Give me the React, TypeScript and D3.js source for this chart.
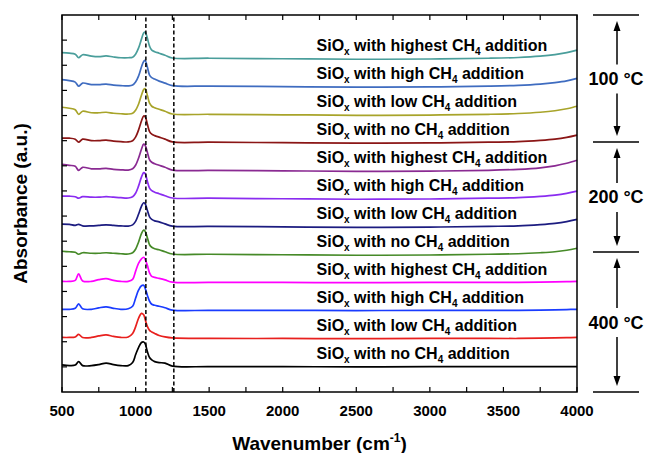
import * as d3 from 'd3';

const wavenumbers = [
  500, 550, 590, 613, 640, 700, 750, 800, 850, 900, 950, 980, 1000, 1020, 1040, 1055, 1065,
  1080, 1095, 1110, 1130, 1160, 1200, 1250, 1500, 2000, 2500, 3000, 3400, 3600, 3750, 3850,
  3930, 4000,
];

// absorbance above each spectrum's own baseline, top spectrum first
const highest100 = [0.022, 0.02, 0.016, 0.002, 0.014, 0.008, 0.006, 0.009, 0.005, 0.002, 0.002, 0.004, 0.016, 0.04, 0.076, 0.1, 0.104, 0.08, 0.048, 0.032, 0.026, 0.02, 0.012, 0.001, 0, -0.002, -0.004, -0.003, 0, 0.003, 0.008, 0.014, 0.022, 0.032];
const high100 = [0.026, 0.022, 0.016, 0, 0.012, 0.006, 0.006, 0.008, 0.004, 0.002, 0.001, 0.004, 0.016, 0.04, 0.076, 0.098, 0.102, 0.076, 0.044, 0.034, 0.028, 0.02, 0.012, 0.002, 0, -0.002, -0.004, -0.003, 0, 0.003, 0.008, 0.014, 0.021, 0.031];
const low100 = [0.028, 0.024, 0.018, 0, 0.012, 0.006, 0.006, 0.008, 0.004, 0.002, 0.001, 0.004, 0.016, 0.04, 0.076, 0.098, 0.102, 0.076, 0.044, 0.032, 0.026, 0.02, 0.012, 0.001, 0, -0.002, -0.004, -0.003, 0, 0.003, 0.008, 0.014, 0.022, 0.032];
const no100 = [0.016, 0.016, 0.012, 0, 0.012, 0.006, 0.006, 0.008, 0.004, 0.002, 0.001, 0.006, 0.02, 0.048, 0.084, 0.104, 0.102, 0.072, 0.042, 0.032, 0.026, 0.02, 0.012, 0.001, 0, -0.002, -0.004, -0.003, 0, 0.002, 0.007, 0.012, 0.019, 0.028];
const highest200 = [0.024, 0.02, 0.016, 0, 0.012, 0.006, 0.006, 0.008, 0.004, 0.002, 0.001, 0.006, 0.02, 0.048, 0.084, 0.104, 0.1, 0.072, 0.042, 0.032, 0.026, 0.02, 0.012, 0.001, 0, -0.002, -0.004, -0.003, 0, 0.004, 0.01, 0.018, 0.028, 0.04];
const high200 = [0.008, 0.008, 0.006, 0, 0.006, 0.004, 0.004, 0.006, 0.004, 0.002, 0.001, 0.006, 0.02, 0.048, 0.084, 0.102, 0.098, 0.068, 0.04, 0.03, 0.024, 0.018, 0.01, 0.001, 0, -0.002, -0.004, -0.003, 0, 0.002, 0.007, 0.012, 0.019, 0.028];
const low200 = [0.009, 0.008, 0.004, 0.008, 0.002, 0.002, 0.004, 0.006, 0.004, 0.002, 0.001, 0.006, 0.02, 0.048, 0.08, 0.094, 0.09, 0.064, 0.038, 0.028, 0.022, 0.018, 0.01, 0.001, 0, -0.002, -0.004, -0.003, 0, 0.002, 0.007, 0.012, 0.019, 0.028];
const no200 = [0.012, 0.01, 0.008, 0, 0.006, 0.004, 0.004, 0.006, 0.004, 0.002, 0.001, 0.006, 0.02, 0.048, 0.082, 0.096, 0.092, 0.066, 0.038, 0.028, 0.022, 0.018, 0.01, 0.001, 0, -0.002, -0.004, -0.003, 0, 0.002, 0.006, 0.01, 0.016, 0.024];
const highest400 = [0.004, 0.004, 0.008, 0.034, 0.006, 0.004, 0.011, 0.015, 0.008, 0.004, 0.004, 0.012, 0.044, 0.076, 0.094, 0.1, 0.092, 0.068, 0.038, 0.024, 0.02, 0.016, 0.01, 0.001, 0, 0, -0.001, 0, 0, 0, 0.001, 0.002, 0.003, 0.004];
const high400 = [0.004, 0.004, 0.008, 0.026, 0.006, 0.004, 0.01, 0.014, 0.008, 0.004, 0.006, 0.016, 0.048, 0.08, 0.098, 0.1, 0.088, 0.06, 0.036, 0.024, 0.02, 0.016, 0.01, 0.001, 0, 0, -0.001, 0, 0, 0, 0.001, 0.002, 0.003, 0.004];
const low400 = [0.004, 0.004, 0.006, 0.016, 0.004, 0.004, 0.01, 0.014, 0.008, 0.004, 0.006, 0.02, 0.046, 0.08, 0.1, 0.094, 0.076, 0.048, 0.032, 0.026, 0.02, 0.012, 0.006, 0.002, 0, 0, -0.001, 0, 0, 0, 0.001, 0.002, 0.003, 0.004];
const no400 = [0.007, 0.004, 0.006, 0.02, 0.004, 0.004, 0.008, 0.014, 0.008, 0.004, 0.004, 0.016, 0.047, 0.076, 0.096, 0.098, 0.092, 0.06, 0.036, 0.027, 0.02, 0.016, 0.014, 0.002, 0, 0, -0.001, 0, 0, 0, 0, 0, 0, 0];

const seriesValues = [
  highest100, high100, low100, no100,
  highest200, high200, low200, no200,
  highest400, high400, low400, no400,
];
const seriesOffsets = [1.328, 1.217, 1.105, 0.994, 0.882, 0.771, 0.659, 0.548, 0.436, 0.325, 0.213, 0.101];
const seriesLevels = ['highest', 'high', 'low', 'no', 'highest', 'high', 'low', 'no', 'highest', 'high', 'low', 'no'];
const seriesColors = [
  '#4a9e9b', '#3f6cc0', '#a8a42a', '#8b1616',
  '#8a2a92', '#8a2cf0', '#1c1c80', '#468a28',
  '#ff00ff', '#1a3cff', '#e8201e', '#000000',
];

const xTicks = [500, 1000, 1500, 2000, 2500, 3000, 3500, 4000];
const xMinorTicks = [750, 1250, 1750, 2250, 2750, 3250, 3750];
const yTicks = [0.1, 0.2, 0.3, 0.4, 0.5, 0.6, 0.7, 0.8, 0.9, 1.0, 1.1, 1.2, 1.3, 1.4];
const markerLines = [1070, 1260];
const tempLabels = ['100 °C', '200 °C', '400 °C'];
const groupBounds = [1.5, 0.995, 0.557, 0];

const width = 646;
const height = 453;
const margin = { top: 15, right: 69, bottom: 61, left: 62 };
const font = 'Liberation Sans, Arial, sans-serif';

export default function App() {
  const x = d3.scaleLinear().domain([500, 4000]).range([margin.left, width - margin.right]);
  const y = d3.scaleLinear().domain([0, 1.5]).range([height - margin.bottom, margin.top]);
  const line = d3
    .line<number>()
    .x((_, i) => x(wavenumbers[i]))
    .y((d) => y(d))
    .curve(d3.curveCatmullRom.alpha(0.5));

  const x0 = x.range()[0];
  const x1 = x.range()[1];
  const y0 = y.range()[0];
  const y1 = y.range()[1];
  const ax = 617;

  return (
    <svg width={width} height={height} style={{ position: 'absolute', left: 0, top: 0 }} fontFamily={font}>
      <rect width={width} height={height} fill="#fff" />

      {seriesValues.map((vals, i) => (
        <path
          key={i}
          d={line(vals.map((v) => v + seriesOffsets[i])) || ''}
          fill="none"
          stroke={seriesColors[i]}
          strokeWidth={1.7}
          strokeLinejoin="round"
        />
      ))}

      {markerLines.map((m) => (
        <line key={m} x1={x(m)} x2={x(m)} y1={y0} y2={y1} stroke="#000" strokeWidth={1.5} strokeDasharray="4,2.5" />
      ))}

      {seriesLevels.map((lv, i) => (
        <text key={i} x={x(2230)} y={y(seriesOffsets[i]) - 7.6} fontSize={16} fontWeight="bold">
          SiO
          <tspan dy={4} fontSize={10}>x</tspan>
          <tspan dy={-4}>{` with ${lv} CH`}</tspan>
          <tspan dy={4} fontSize={10}>4</tspan>
          <tspan dy={-4}> addition</tspan>
        </text>
      ))}

      <rect x={x0} y={y1} width={x1 - x0} height={y0 - y1} fill="none" stroke="#000" strokeWidth={1.5} />

      {xTicks.concat(xMinorTicks).map((t) => (
        <g key={t}>
          <line x1={x(t)} x2={x(t)} y1={y0} y2={y0 - 5} stroke="#000" strokeWidth={1.2} />
          <line x1={x(t)} x2={x(t)} y1={y1} y2={y1 + 5} stroke="#000" strokeWidth={1.2} />
        </g>
      ))}
      {xTicks.map((t) => (
        <text key={t} x={x(t)} y={y0 + 24} textAnchor="middle" fontSize={15} fontWeight="bold">
          {t}
        </text>
      ))}
      {yTicks.map((t) => (
        <line key={t} x1={x0} x2={x0 + 5} y1={y(t)} y2={y(t)} stroke="#000" strokeWidth={1.2} />
      ))}

      <text x={(x0 + x1) / 2} y={450} textAnchor="middle" fontSize={19} fontWeight="bold">
        Wavenumber (cm
        <tspan dy={-8} fontSize={12}>-1</tspan>
        <tspan dy={8}>)</tspan>
      </text>
      <text
        transform={`translate(27,${(y0 + y1) / 2}) rotate(-90)`}
        textAnchor="middle"
        fontSize={19}
        fontWeight="bold"
      >
        Absorbance (a.u.)
      </text>

      {groupBounds.map((b, i) => (
        <line key={i} x1={593} x2={639} y1={y(b)} y2={y(b)} stroke="#000" strokeWidth={1.5} />
      ))}
      {tempLabels.map((lab, i) => {
        const top = y(groupBounds[i]);
        const bot = y(groupBounds[i + 1]);
        const mid = (top + bot) / 2;
        return (
          <g key={lab}>
            <text x={616} y={mid + 6.5} textAnchor="middle" fontSize={18} fontWeight="bold">
              {lab}
            </text>
            <line x1={ax} x2={ax} y1={mid - 14} y2={top + 14} stroke="#000" strokeWidth={1.5} />
            <path d={`M${ax},${top + 6} L${ax - 3.5},${top + 16} L${ax + 3.5},${top + 16} Z`} fill="#000" />
            <line x1={ax} x2={ax} y1={mid + 15} y2={bot - 14} stroke="#000" strokeWidth={1.5} />
            <path d={`M${ax},${bot - 6} L${ax - 3.5},${bot - 16} L${ax + 3.5},${bot - 16} Z`} fill="#000" />
          </g>
        );
      })}
    </svg>
  );
}
